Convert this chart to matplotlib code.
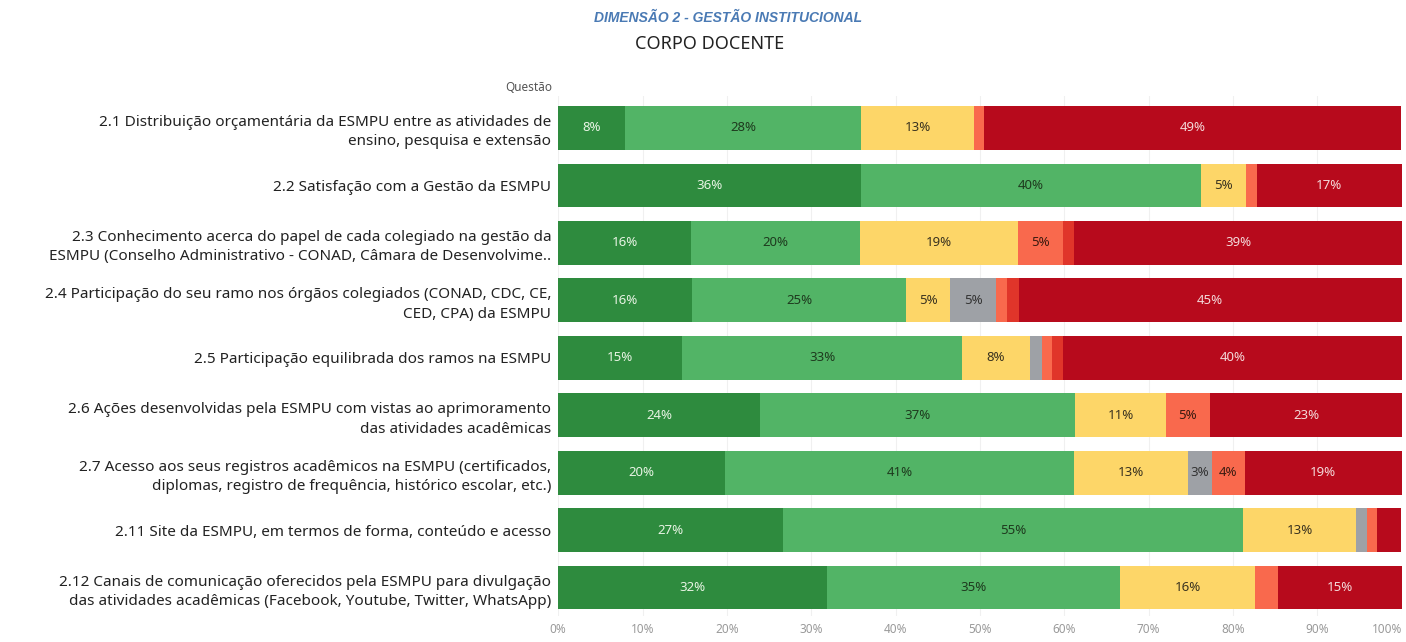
import matplotlib.pyplot as plt
import numpy as np

# Questions (top to bottom)
questions = [
    '2.1 Distribuição orçamentária da ESMPU entre as atividades de\nensino, pesquisa e extensão',
    '2.2 Satisfação com a Gestão da ESMPU',
    '2.3 Conhecimento acerca do papel de cada colegiado na gestão da\nESMPU (Conselho Administrativo - CONAD, Câmara de Desenvolvime..',
    '2.4 Participação do seu ramo nos órgãos colegiados (CONAD, CDC, CE,\nCED, CPA) da ESMPU',
    '2.5 Participação equilibrada dos ramos na ESMPU',
    '2.6 Ações desenvolvidas pela ESMPU com vistas ao aprimoramento\ndas atividades acadêmicas',
    '2.7 Acesso aos seus registros acadêmicos na ESMPU (certificados,\ndiplomas, registro de frequência, histórico escolar, etc.)',
    '2.11 Site da ESMPU, em termos de forma, conteúdo e acesso',
    '2.12 Canais de comunicação oferecidos pela ESMPU para divulgação\ndas atividades acadêmicas (Facebook, Youtube, Twitter, WhatsApp)',
]

# Percentages per answer category (same order as questions)
muito_bom = [7.9, 35.9, 15.8, 15.9, 14.7, 23.9, 19.8, 26.6, 31.9]
bom = [28.0, 40.3, 20.0, 25.3, 33.2, 37.4, 41.4, 54.6, 34.7]
regular = [13.4, 5.3, 18.7, 5.3, 8.0, 10.7, 13.4, 13.4, 16.0]
nao_sei = [0, 0, 0, 5.4, 1.4, 0, 2.9, 1.3, 0]
ruim = [1.2, 1.3, 5.3, 1.3, 1.2, 5.3, 3.9, 1.2, 2.7]
muito_ruim = [0, 0, 1.4, 1.4, 1.4, 0, 0, 0, 0]
pessimo = [49.4, 17.2, 38.8, 45.4, 40.1, 22.8, 18.6, 2.8, 14.7]

series = [muito_bom, bom, regular, nao_sei, ruim, muito_ruim, pessimo]
colors = ['#2e8b3e', '#52b466', '#fdd668', '#9ea1a6', '#f9694d', '#e0352a', '#b70a1c']
text_colors = ['#e8f4e4', '#1e3a1e', '#3a3320', '#333333', '#3a1a10', '#ffffff', '#f4dada']

plt.rcParams['font.family'] = ['Noto Sans', 'DejaVu Sans']

fig = plt.figure(figsize=(14.06, 6.42), dpi=100)
ax = fig.add_axes([0.397, 0.04, 0.6, 0.81])

y = np.arange(len(questions))
left = np.zeros(len(questions))
for vals, col, tcol in zip(series, colors, text_colors):
    vals = np.array(vals)
    ax.barh(y, vals, left=left, height=0.76, color=col, zorder=2)
    for i, v in enumerate(vals):
        if v >= 2.85:
            ax.text(left[i] + v / 2, y[i], f'{v:.0f}%', ha='center', va='center',
                    fontsize=9.5, color=tcol, zorder=3)
    left += vals

ax.set_xlim(0, 100)
ax.set_ylim(len(questions) - 0.5, -0.55)
ax.set_yticks(y)
ax.set_yticklabels(questions, fontsize=11, color='#222222', linespacing=1.4)
ax.set_xticks(np.arange(0, 101, 10))
ax.set_xticklabels([f'{t}%' for t in range(0, 101, 10)], fontsize=8.5, color='#9a9a9a')
ax.get_xticklabels()[-1].set_horizontalalignment('right')
ax.tick_params(axis='both', length=0, pad=5)
ax.grid(axis='x', color='#f0f0f0', linewidth=0.8, zorder=0)
for s in ax.spines.values():
    s.set_visible(False)

fig.text(0.518, 0.972, 'DIMENSÃO 2 - GESTÃO INSTITUCIONAL', ha='center', va='center',
         fontsize=10, fontweight='bold', fontstyle='italic', color='#4a7ab4',
         family=['Liberation Sans Narrow', 'Liberation Sans', 'DejaVu Sans'])
fig.text(0.505, 0.932, 'CORPO DOCENTE', ha='center', va='center',
         fontsize=13, color='#222222')
fig.text(0.393, 0.863, 'Questão', ha='right', va='center', fontsize=8.5, color='#555555')

fig.savefig('out.png', dpi=100)
